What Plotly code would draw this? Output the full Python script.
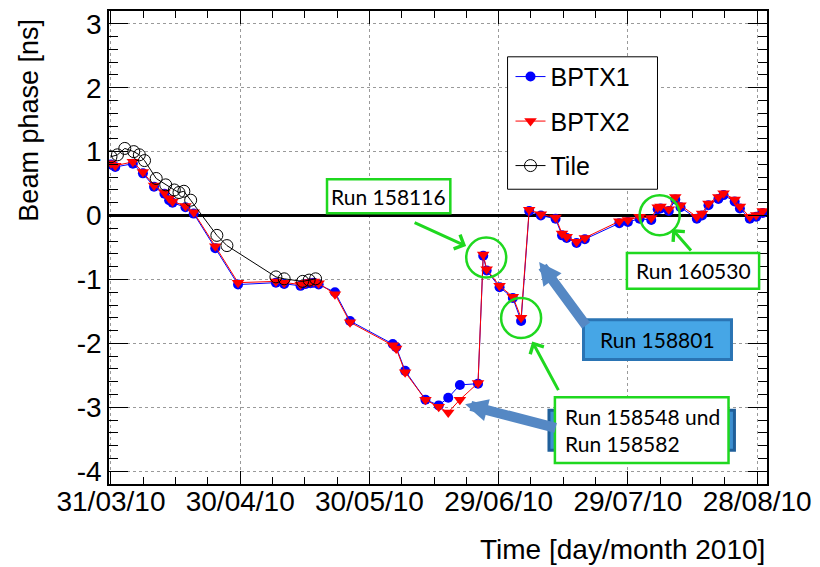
import plotly.graph_objects as go

# ---------------- data ----------------
bptx_dates = [
    "2010-03-31 00:00", "2010-04-01 00:00", "2010-04-05 02:00", "2010-04-07 10:00",
    "2010-04-10 00:00", "2010-04-12 10:00", "2010-04-13 12:00", "2010-04-14 07:00",
    "2010-04-17 07:00", "2010-04-19 05:00", "2010-04-24 05:00", "2010-04-29 12:00",
    "2010-05-08 07:00", "2010-05-10 05:00", "2010-05-14 00:00", "2010-05-15 05:00",
    "2010-05-16 07:00", "2010-05-17 02:00", "2010-05-18 05:00", "2010-05-22 00:00",
    "2010-05-25 12:00", "2010-06-04 10:00", "2010-06-05 05:00", "2010-06-07 07:00",
    "2010-06-12 00:00", "2010-06-15 02:00", "2010-06-17 07:00", "2010-06-20 00:00",
    "2010-06-24 05:00", "2010-06-25 10:00", "2010-06-26 05:00", "2010-06-29 05:00",
    "2010-07-02 07:00", "2010-07-04 05:00", "2010-07-06 02:00", "2010-07-08 19:00",
    "2010-07-12 05:00", "2010-07-13 17:00", "2010-07-14 19:00", "2010-07-17 02:00",
    "2010-07-19 00:00", "2010-07-27 00:00", "2010-07-29 00:00", "2010-07-31 17:00",
    "2010-08-03 10:00", "2010-08-04 22:00", "2010-08-05 14:00", "2010-08-07 12:00",
    "2010-08-09 00:00", "2010-08-10 05:00", "2010-08-14 00:00", "2010-08-15 05:00",
    "2010-08-16 17:00", "2010-08-19 00:00", "2010-08-20 05:00", "2010-08-22 19:00",
    "2010-08-24 00:00", "2010-08-26 07:00", "2010-08-27 19:00", "2010-08-29 07:00",
]
bptx1 = [
    0.80, 0.76, 0.81, 0.66, 0.45, 0.34, 0.24, 0.20, 0.13, 0.03, -0.51, -1.08,
    -1.05, -1.07, -1.10, -1.07, -1.06, -1.05, -1.08, -1.20, -1.65, -2.01, -2.06, -2.43,
    -2.88, -2.97, -2.85, -2.65, -2.63, -0.63, -0.86, -1.12, -1.29, -1.65, 0.07, 0.00,
    -0.05, -0.31, -0.35, -0.43, -0.37, -0.12, -0.10, -0.05, -0.07, 0.10, 0.11, 0.07,
    0.25, 0.13, -0.05, 0.00, 0.16, 0.26, 0.32, 0.22, 0.11, -0.05, -0.02, 0.04,
]
bptx2 = [
    0.82, 0.78, 0.84, 0.68, 0.47, 0.36, 0.27, 0.22, 0.15, 0.05, -0.48, -1.05,
    -1.03, -1.05, -1.08, -1.05, -1.04, -1.03, -1.06, -1.23, -1.67, -2.03, -2.08, -2.45,
    -2.88, -2.99, -3.08, -2.88, -2.62, -0.61, -0.84, -1.10, -1.27, -1.60, 0.09, 0.02,
    -0.03, -0.28, -0.33, -0.41, -0.35, -0.09, -0.07, -0.02, -0.04, 0.13, 0.14, 0.10,
    0.29, 0.16, -0.02, 0.03, 0.19, 0.29, 0.35, 0.25, 0.14, -0.02, 0.01, 0.07,
]
tile_dates = [
    "2010-03-31 00:00", "2010-04-01 12:00", "2010-04-03 05:00", "2010-04-05 07:00",
    "2010-04-06 14:00", "2010-04-07 19:00", "2010-04-10 12:00", "2010-04-12 17:00",
    "2010-04-14 17:00", "2010-04-15 19:00", "2010-04-16 22:00", "2010-04-18 12:00",
    "2010-04-24 14:00", "2010-04-26 22:00", "2010-05-08 07:00", "2010-05-10 05:00",
    "2010-05-14 12:00", "2010-05-16 00:00", "2010-05-17 12:00",
]
tile = [
    0.92, 0.95, 1.05, 1.00, 0.95, 0.86, 0.58, 0.48, 0.40, 0.36, 0.38, 0.24,
    -0.31, -0.47, -0.96, -0.99, -1.03, -1.01, -0.99,
]

x_tick_dates = ["2010-03-31", "2010-04-30", "2010-05-30", "2010-06-29", "2010-07-29", "2010-08-28"]
x_tick_labels = ["31/03/10", "30/04/10", "30/05/10", "29/06/10", "29/07/10", "28/08/10"]
y_tick_values = [-4, -3, -2, -1, 0, 1, 2, 3]
y_tick_labels = ["-4", "-3", "-2", "-1", "0", "1", "2", "3"]

# ---------------- layout helpers ----------------
W, H = 820, 567
L, R, T, B = 109, 776, 9, 484          # plot frame on the canvas


def px(x):
    return (x - L) / (R - L)


def py(y):
    return (B - y) / (B - T)


FONT = "Liberation Sans, Arial, Helvetica, sans-serif"
CALLOUT_FONT = "Lato, Open Sans, sans-serif"
GREEN = "#1fd81f"
ARROW_BLUE = "#5588c4"
DAY_MS = 86400000

fig = go.Figure()
fig.add_trace(go.Scatter(
    x=bptx_dates, y=bptx1, name="BPTX1", mode="lines+markers", legendgroup="g1",
    line=dict(color="#0000ff", width=1),
    marker=dict(symbol="circle", size=10, color="#0000ff"),
))
fig.add_trace(go.Scatter(
    x=bptx_dates, y=bptx2, name="BPTX2", mode="lines+markers", legendgroup="g2",
    line=dict(color="#ff0000", width=1),
    marker=dict(symbol="triangle-down", size=11, color="#ff0000"),
))
fig.add_trace(go.Scatter(
    x=tile_dates, y=tile, name="Tile", mode="lines+markers", legendgroup="g3",
    line=dict(color="#000000", width=1),
    marker=dict(symbol="circle-open", size=12, color="#000000", line=dict(width=1)),
))

shapes = []
annotations = []

# legend frame (opaque, covers the grid)
shapes.append(dict(
    type="rect", xref="paper", yref="paper",
    x0=px(513), x1=px(665), y0=py(188), y1=py(55),
    fillcolor="white", line=dict(color="black", width=1), layer="above",
))


# green circles around the marked runs, anchored on data points
def ring(date, value, dx=0, dy=0, r=20):
    shapes.append(dict(
        type="circle", xref="x", yref="y", xsizemode="pixel", ysizemode="pixel",
        xanchor=date, yanchor=value, x0=dx - r, x1=dx + r, y0=dy - r, y1=dy + r,
        line=dict(color=GREEN, width=2.5), layer="above",
    ))


ring(bptx_dates[29], bptx2[29], dx=3, dy=-3)
ring(bptx_dates[33], bptx1[33], dx=0, dy=3)
ring(bptx_dates[45], bptx1[45], dx=2, dy=-6)


def box(x0, y0, x1, y1, fill, line, width):
    shapes.append(dict(
        type="rect", xref="paper", yref="paper",
        x0=px(x0), x1=px(x1), y0=py(y1), y1=py(y0),
        fillcolor=fill, line=dict(color=line, width=width), layer="above",
    ))


def label(x, y, text, xanchor="center", size=21):
    annotations.append(dict(
        xref="paper", yref="paper", x=px(x), y=py(y), text=text, showarrow=False,
        xanchor=xanchor, yanchor="middle", align="left",
        font=dict(family=CALLOUT_FONT, size=size, color="black"),
    ))


def arrow(tip_x, tip_y, tail_x, tail_y, color, width, head, size):
    annotations.append(dict(
        xref="paper", yref="paper", x=px(tip_x), y=py(tip_y), text="",
        showarrow=True, ax=tail_x - tip_x, ay=tail_y - tip_y,
        arrowcolor=color, arrowwidth=width, arrowhead=head, arrowsize=size,
        standoff=0, startstandoff=0,
    ))


# blue call-outs
box(590, 319, 740, 359, "#46a6e6", "#2a74b4", 3)
label(665, 339, "Run 158801")
box(555, 410, 743, 450, "#3d8fd0", "#1f5f9a", 3)
arrow(545, 261, 593, 326, ARROW_BLUE, 10, 2, 0.45)
arrow(470, 404, 562, 428, ARROW_BLUE, 10, 2, 0.45)

# green call-outs
box(330, 178, 455, 212, "white", GREEN, 2.5)
label(392, 195, "Run 158116")
box(634, 252, 768, 288, "white", GREEN, 2.5)
label(701, 270, "Run 160530")
box(561, 397, 737, 463, "white", GREEN, 2.5)
label(569, 430, "Run 158548 und<br>Run 158582", xanchor="left")

arrow(471, 245, 418, 221, GREEN, 3, 4, 1)
arrow(538, 341, 565, 391, GREEN, 3, 4, 1)
arrow(680, 228, 700, 251, GREEN, 3, 4, 1)

# axis titles
annotations.append(dict(
    xref="paper", yref="paper", x=1, y=py(550), text="Time [day/month 2010]",
    showarrow=False, xanchor="right", yanchor="middle",
    font=dict(family=FONT, size=28, color="black"),
))
annotations.append(dict(
    xref="paper", yref="paper", x=px(27), y=py(119), text="Beam phase [ns]",
    showarrow=False, textangle=-90, xanchor="center", yanchor="middle",
    font=dict(family=FONT, size=27, color="black"),
))

axis_common = dict(
    showline=True, linecolor="black", linewidth=1.5, mirror="ticks",
    ticks="inside", tickcolor="black", tickwidth=1.2,
    showgrid=True, gridcolor="#9a9a9a", gridwidth=1, griddash="dot",
    tickfont=dict(family=FONT, size=28, color="black"),
)

fig.update_layout(
    width=W, height=H,
    margin=dict(l=L, r=W - R, t=T, b=H - B),
    paper_bgcolor="white", plot_bgcolor="white",
    font=dict(family=FONT, color="black"),
    showlegend=True,
    legend=dict(
        x=px(516), y=py(52), xanchor="left", yanchor="top",
        bgcolor="rgba(0,0,0,0)", borderwidth=0,
        font=dict(family=FONT, size=25, color="black"),
        tracegroupgap=9, itemwidth=30,
    ),
    xaxis=dict(
        type="date",
        range=["2010-03-30 13:00", "2010-08-30 07:00"],
        tickmode="array", tickvals=x_tick_dates, ticktext=x_tick_labels,
        ticklen=13, ticklabeloverflow="allow", ticklabelstandoff=-8,
        minor=dict(tickmode="linear", tick0="2010-03-31", dtick=7.5 * DAY_MS,
                   ticks="inside", ticklen=7, tickcolor="black", showgrid=False),
        zeroline=False,
        **axis_common,
    ),
    yaxis=dict(
        range=[-4.2, 3.2],
        tickmode="array", tickvals=y_tick_values, ticktext=y_tick_labels,
        ticklen=19,
        minor=dict(tickmode="linear", tick0=0, dtick=0.2,
                   ticks="inside", ticklen=9, tickcolor="black", showgrid=False),
        zeroline=True, zerolinecolor="black", zerolinewidth=2.5,
        **axis_common,
    ),
    shapes=shapes,
    annotations=annotations,
)

fig.write_html("out.html")
